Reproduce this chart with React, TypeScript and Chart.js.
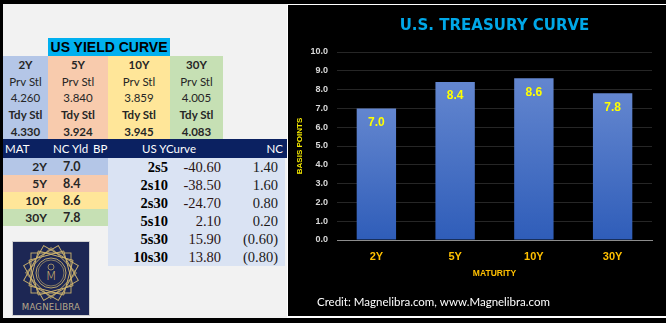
import React, { useEffect, useRef } from 'react';
import { Chart, registerables } from 'chart.js';

Chart.register(...registerables);

// ---- data ----
const maturities = ['2Y', '5Y', '10Y', '30Y'];
const ncYieldBp = [7.0, 8.4, 8.6, 7.8];
const prvStl = ['4.260', '3.840', '3.859', '4.005'];
const tdyStl = ['4.330', '3.924', '3.945', '4.083'];
const spreadNames = ['2s5', '2s10', '2s30', '5s10', '5s30', '10s30'];
const spreadValues = ['-40.60', '-38.50', '-24.70', '2.10', '15.90', '13.80'];
const spreadChanges = ['1.40', '1.60', '0.80', '0.20', '(0.60)', '(0.80)'];
const yMin = 0;
const yMax = 10;
const yStep = 1;
const chartTitle = 'U.S. TREASURY CURVE';
const xTitle = 'MATURITY';
const yTitle = 'BASIS POINTS';
const creditText = 'Credit: Magnelibra.com, www.Magnelibra.com';

// ---- styles ----
const colColors = ['#b4c6e7', '#f8cbad', '#ffe699', '#c6e0b4'];
const colX = [3, 48, 108, 170, 223];
const sans = 'Lato, "Liberation Sans", sans-serif';
const serif = '"Liberation Serif", "Times New Roman", serif';

const abs = (l: number, t: number, w: number, h: number, extra: any = {}) => ({
  position: 'absolute' as const, left: l, top: t, width: w, height: h, ...extra,
});

const barLabelPlugin = {
  id: 'barLabels',
  afterDatasetsDraw(chart: any) {
    const { ctx } = chart;
    const meta = chart.getDatasetMeta(0);
    ctx.save();
    ctx.fillStyle = '#ffff00';
    ctx.font = 'bold 12px "Liberation Sans", Arial, sans-serif';
    ctx.textAlign = 'center';
    ctx.textBaseline = 'middle';
    meta.data.forEach((el: any, i: number) => {
      const v = chart.data.datasets[0].data[i] as number;
      ctx.fillText(v.toFixed(1), el.x, el.y + 14);
    });
    ctx.restore();
  },
};

const creditPlugin = {
  id: 'credit',
  afterDraw(chart: any) {
    const { ctx } = chart;
    ctx.save();
    ctx.fillStyle = '#ffffff';
    ctx.font = '11.5px Lato, "Liberation Sans", sans-serif';
    ctx.textAlign = 'left';
    ctx.textBaseline = 'middle';
    ctx.fillText(creditText, 29, 297);
    ctx.restore();
  },
};

function TreasuryChart() {
  const ref = useRef<HTMLCanvasElement>(null);
  useEffect(() => {
    if (!ref.current) return;
    const chart = new Chart(ref.current, {
      type: 'bar',
      data: {
        labels: maturities,
        datasets: [
          {
            data: ncYieldBp,
            backgroundColor: (c: any) => {
              const ch = c.chart;
              const area = ch.chartArea;
              if (!area || c.parsed == null) return '#4472c4';
              const top = ch.scales.y.getPixelForValue(c.parsed.y);
              const g = ch.ctx.createLinearGradient(0, top, 0, area.bottom);
              g.addColorStop(0, '#6386cf');
              g.addColorStop(1, '#2f5db9');
              return g;
            },
            borderWidth: 0,
            barPercentage: 0.5,
            categoryPercentage: 1,
          },
        ],
      },
      options: {
        animation: false,
        responsive: false,
        maintainAspectRatio: false,
        events: [],
        layout: { padding: { left: 2, right: 14, top: 0, bottom: 31 } },
        plugins: {
          legend: { display: false },
          tooltip: { enabled: false },
          title: {
            display: true,
            text: chartTitle,
            color: '#00a8e8',
            fullSize: false,
            font: { family: '"DejaVu Sans", sans-serif', size: 15, weight: 'bold' },
            padding: { top: 12, bottom: 17 },
          },
        },
        scales: {
          x: {
            grid: { display: false, drawTicks: false },
            border: { display: true, color: '#8c8c8c', width: 1 },
            ticks: {
              color: '#ffc000',
              font: { family: '"Liberation Sans", Arial, sans-serif', size: 11, weight: 'bold' },
              padding: 10,
            },
            title: {
              display: true,
              text: xTitle,
              color: '#ffc000',
              font: { family: '"Liberation Sans", Arial, sans-serif', size: 8.5, weight: 'bold' },
              padding: { top: 0, bottom: 6 },
            },
            afterFit: (s: any) => { s.height = 45; },
          },
          y: {
            min: yMin,
            max: yMax,
            grid: {
              drawTicks: false,
              color: (c: any) => (c.tick && c.tick.value === 0 ? '#8c8c8c' : '#262626'),
            },
            border: { display: false },
            ticks: {
              stepSize: yStep,
              color: '#d9d9d9',
              padding: 9,
              font: { family: '"Liberation Sans", Arial, sans-serif', size: 9, weight: 'bold' },
              callback: (v: any) => Number(v).toFixed(1),
            },
            title: {
              display: true,
              text: yTitle,
              color: '#f5e900',
              font: { family: '"Liberation Sans", Arial, sans-serif', size: 8, weight: 'bold' },
              padding: { top: 5, bottom: 0 },
            },
            afterFit: (s: any) => { s.width = 47; },
          },
        },
      },
      plugins: [barLabelPlugin, creditPlugin],
    });
    return () => chart.destroy();
  }, []);
  return <canvas ref={ref} width={378} height={311} style={{ display: 'block', width: 378, height: 311 }} />;
}

function Logo() {
  const gold = '#cdb36e';
  const cx = 38, cy = 31;
  const sq = (size: number, rot: number, key: string) => (
    <rect key={key} x={cx - size / 2} y={cy - size / 2} width={size} height={size}
      fill="none" stroke={gold} strokeWidth={0.9} transform={`rotate(${rot} ${cx} ${cy})`} />
  );
  const rects: any[] = [];
  [0, 30, 60].forEach((r) => {
    rects.push(sq(40, r, 'a' + r));
    rects.push(sq(36, r + 15, 'b' + r));
  });
  return (
    <div style={abs(13, 242, 76, 73, { background: '#1d2754', boxShadow: '0 0 0 1px #d0d0d0' })}>
      <svg width={76} height={73} style={{ display: 'block' }}>
        {rects}
        <circle cx={cx} cy={cy} r={15} fill="none" stroke={gold} strokeWidth={0.9} />
        <circle cx={cx} cy={cy} r={13} fill="none" stroke={gold} strokeWidth={0.6} />
        <circle cx={cx} cy={cy - 6} r={3} fill="none" stroke={gold} strokeWidth={0.7} />
        <text x={cx} y={cy + 7} textAnchor="middle" fontFamily='"DejaVu Sans", sans-serif'
          fontSize={13} fill={gold} fontWeight="300">M</text>
        <text x={cx} y={68} textAnchor="middle" fontFamily='"DejaVu Sans", sans-serif'
          fontSize={8.6} fill="#b7a88a" letterSpacing={0.2}>MAGNELIBRA</text>
      </svg>
    </div>
  );
}

export default function App() {
  const topRows = (i: number) => [
    { t: maturities[i], b: true },
    { t: 'Prv Stl', b: false },
    { t: prvStl[i], b: false },
    { t: 'Tdy Stl', b: true },
    { t: tdyStl[i], b: true },
  ];
  return (
    <div style={{ position: 'relative', width: 666, height: 323, background: '#000', overflow: 'hidden' }}>
      <style>{'body{margin:0;background:#000}'}</style>

      {/* left spreadsheet panel */}
      <div style={abs(3, 4, 284, 314, { background: '#f2f2f2', borderRight: '1px solid #ffffff' })} />

      <div style={abs(48, 38, 122, 18, {
        background: '#00b0f0', color: '#000', font: `bold 14px "Liberation Sans", Arial, sans-serif`,
        lineHeight: '19px', textAlign: 'center',
      })}>US YIELD CURVE</div>

      {maturities.map((m, i) => (
        <div key={'col' + m} style={abs(colX[i], 56, colX[i + 1] - colX[i], 83, { background: colColors[i] })}>
          {topRows(i).map((r, j) => (
            <div key={j} style={abs(0, 1 + 16.7 * j, colX[i + 1] - colX[i], 16.6, {
              textAlign: 'center', lineHeight: '16.6px', fontFamily: sans, fontSize: 11.5,
              fontWeight: r.b ? 700 : 400, color: '#262626',
            })}>{r.t}</div>
          ))}
        </div>
      ))}

      {/* navy header */}
      <div style={abs(3, 139, 284, 19, { background: '#0b2161' })} />
      {[
        { t: 'MAT', l: 5 },
        { t: 'NC Yld', l: 53 },
        { t: 'BP', l: 93 },
        { t: 'US YCurve', l: 142 },
      ].map((h) => (
        <div key={h.t} style={abs(h.l, 139, 60, 19, {
          color: '#fff', fontFamily: sans, fontSize: 11.5, lineHeight: '19px', whiteSpace: 'nowrap',
        })}>{h.t}</div>
      ))}
      <div style={abs(240, 139, 43, 19, {
        color: '#fff', fontFamily: sans, fontSize: 11.5, lineHeight: '19px', textAlign: 'right',
      })}>NC</div>

      {/* NC yield rows */}
      {maturities.map((m, i) => (
        <div key={'nc' + m} style={abs(3, 158 + 17 * i, 105, 17, { background: colColors[i] })}>
          <div style={abs(0, 0, 44, 17, {
            textAlign: 'right', lineHeight: '17px', fontFamily: sans, fontSize: 12, fontWeight: 700, color: '#262626',
          })}>{m}</div>
          <div style={abs(60, 0, 40, 17, {
            textAlign: 'left', lineHeight: '17px', fontFamily: sans, fontSize: 12.5, fontWeight: 700, color: '#262626',
          })}>{ncYieldBp[i].toFixed(1)}</div>
        </div>
      ))}

      {/* curve spreads */}
      <div style={abs(108, 158, 177, 108, { background: '#dae3f3' })} />
      {spreadNames.map((n, i) => (
        <React.Fragment key={'sp' + n}>
          <div style={abs(100, 158 + 18 * i, 68, 18, {
            textAlign: 'right', lineHeight: '18px', fontFamily: serif, fontSize: 14.5, fontWeight: 700, color: '#000',
          })}>{n}</div>
          <div style={abs(160, 158 + 18 * i, 61, 18, {
            textAlign: 'right', lineHeight: '18px', fontFamily: serif, fontSize: 14.5, color: '#2a1414',
          })}>{spreadValues[i]}</div>
          <div style={abs(220, 158 + 18 * i, 58, 18, {
            textAlign: 'right', lineHeight: '18px', fontFamily: serif, fontSize: 14.5, color: '#1a1a1a',
          })}>{spreadChanges[i]}</div>
        </React.Fragment>
      ))}

      <Logo />

      {/* chart panel */}
      <div style={abs(288, 4, 378, 314, {
        background: '#000', borderTop: '1px solid #ffffff', borderBottom: '2px solid #ffffff', boxSizing: 'border-box',
      })}>
        <TreasuryChart />
      </div>
    </div>
  );
}
